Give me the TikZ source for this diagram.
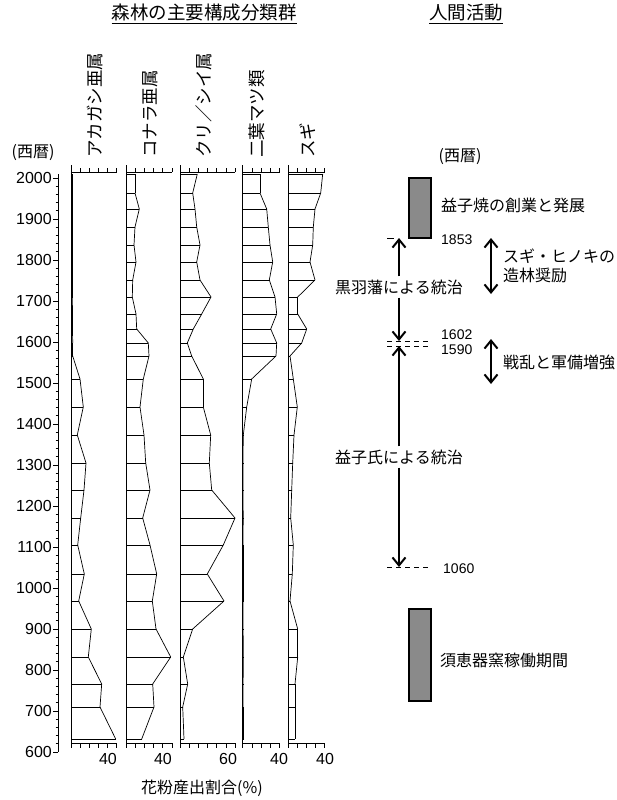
\documentclass[tikz,border=0pt]{standalone}
\usepackage{fontspec}
\setmainfont{Liberation Sans}
\newfontfamily\jp{Noto Sans CJK JP}
\usetikzlibrary{arrows.meta}
\begin{document}
\begin{tikzpicture}[x=1pt,y=-1pt,
  num/.style={font=\fontsize{16}{16}\selectfont, inner sep=0pt},
  smallnum/.style={font=\fontsize{14}{14}\selectfont, inner sep=0pt},
  jtxt/.style={font=\jp\fontsize{16}{19}\selectfont, inner sep=0pt},
  thin/.style={line width=0.7pt},
  arr/.style={line width=2.2pt,-{Straight Barb[length=8pt,width=13pt,line width=2pt]}},
  dbl/.style={line width=2.2pt,{Straight Barb[length=8pt,width=13pt,line width=2pt]}-{Straight Barb[length=8pt,width=13pt,line width=2pt]}},
  dashline/.style={line width=0.9pt,dash pattern=on 5pt off 4pt},
  gbox/.style={draw,line width=2pt,fill=gray!85!black!80}]
\useasboundingbox (0,0) rectangle (616,800);
% titles
\node[jtxt,font=\jp\fontsize{18.5}{20}\selectfont] (t1) at (204,14) {\underline{森林の主要構成分類群}};
\node[jtxt,font=\jp\fontsize{18.5}{20}\selectfont] (t2) at (466,14) {\underline{人間活動}};
% taxon labels
\foreach \xx/\lab [count=\k] in {95/アカガシ亜属,150/コナラ亜属,204/クリ／シイ属,257/二葉マツ類,308/スギ}
  \node[jtxt,rotate=90,anchor=west,font=\jp\fontsize{17.5}{19}\selectfont] (lab\k) at (\xx,158) {\lab};
\node[jtxt] (yl) at (33,153) {(西暦)};
\node[jtxt] (yr) at (460,157) {(西暦)};
% age axis
\draw[thin] (58,174) -- (58,752);
\foreach \yr in {600,700,...,2000}{
  \pgfmathsetmacro\yy{178+(2000-\yr)*0.41}
  \draw[thin] (53,\yy) -- (58,\yy);
  \node[num,anchor=east] at (52,\yy) {\yr};}
\foreach \yr in {620,640,...,2000}{
  \pgfmathsetmacro\yy{178+(2000-\yr)*0.41}
  \draw[thin] (55.5,\yy) -- (58,\yy);}
% panel axes
\foreach \L/\n/\s/\lx/\lv in {71.7/5/9/108/40,126/5/9.2/163/40,180/6/9.17/228/60,242.7/4/9.25/279/40,288.7/4/9/325/40}{
  \draw[thin] (\L,165) -- (\L,748);
  \pgfmathsetmacro\R{\L+\n*\s}
  \draw[thin] (\L,172) -- (\R,172);
  \draw[thin] (\L,743) -- (\R,743);
  \foreach \t in {1,...,\n}{
    \pgfmathsetmacro\tx{\L+\t*\s}
    \draw[thin] (\tx,172) -- (\tx,168);
    \draw[thin] (\tx,743) -- (\tx,748);}
  \node[num] at (\lx,759) {\lv};
}
\newcommand\pollen[2]{%
  \foreach \y/\v [count=\i] in {#2}{%
    \draw[thin] (#1,\y) -- (\v,\y);
    \ifnum\i>1 \draw[thin] (\pv,\py) -- (\v,\y);\fi
    \xdef\pv{\v}\xdef\py{\y}}}
\pollen{71.7}{174/72.3,193/72.3,209/72.3,227/72.3,245/72.3,262/72.3,280/72.3,297/72.3,314/72.5,329/72.5,343/72.7,356/72.7,379/80,407/83.3,435/77.3,463/86,490/84,518/80.7,545/77.7,574/84.3,601/78.7,629/91.3,657/88.3,684/101.7,707/100,739/115.7}
\pollen{126}{174/135,193/135,209/139.3,227/135,245/134,262/136,280/132.7,297/132.3,314/136,329/136.7,343/148.3,356/149,379/143.3,407/140,435/144,463/145.7,490/150,518/142.7,545/150,574/156.7,601/152.3,629/156,657/170.7,684/152.7,707/154,739/141.7}
\pollen{180}{174/197.3,193/192.7,209/195,227/196.7,245/200,262/196.7,280/200,297/211,314/201.7,329/193.3,343/187.3,356/191.7,379/203.3,407/203.3,435/210.7,463/209.3,490/211.7,518/235,545/223.3,574/207.3,601/224,629/192.7,657/183.3,684/187.7,707/182.7,739/184}
\pollen{242.7}{174/260,193/260,209/266.7,227/268.3,245/270,262/272.7,280/269.3,297/275,314/276.7,329/270.7,343/276.7,356/276,379/251.7,407/246.7,435/243.3,463/242.9,490/243,518/243.2,545/243,574/243,601/243,629/243.1,657/243.3,684/243.1,707/243,739/243}
\pollen{288.7}{174/322.7,193/320.7,209/315,227/313.3,245/312.7,262/310,280/315,297/297.7,314/297.7,329/306.7,343/301.7,356/290,379/293.3,407/297.3,435/294,463/292.7,490/291.7,518/290.7,545/293.3,574/292.3,601/290,629/297.7,657/297.7,684/295,707/295,739/295}
\node[jtxt] (xl) at (202,788) {花粉産出割合(\%)};
% human activity
\node[gbox,minimum width=22pt,minimum height=60pt,inner sep=0pt] (b1) at (419.5,208) {};
\node[jtxt,anchor=west] (b1t) at (441,205) {益子焼の創業と発展};
\node[gbox,minimum width=22pt,minimum height=92pt,inner sep=0pt] (b2) at (420,655) {};
\node[jtxt,anchor=west] (b2t) at (440,660) {須恵器窯稼働期間};
\coordinate (c1853) at (399,238);
\coordinate (c1602) at (399,341);
\coordinate (c1590) at (399,346);
\coordinate (c1060) at (399,567);
\node[jtxt] (kuro) at (399,287) {黒羽藩による統治};
\node[jtxt] (mash) at (399,457) {益子氏による統治};
\draw[arr] (kuro.north) ++(0,-3) -- (c1853);
\draw[arr] (kuro.south) ++(0,3) -- (c1602);
\draw[arr] (mash.north) ++(0,-3) -- (c1590);
\draw[arr] (mash.south) ++(0,3) -- (c1060);
\draw[line width=0.9pt] (387,238) -- (394,238);
\draw[dashline] (387,341) -- (431,341);
\draw[dashline] (387,346.5) -- (431,346.5);
\draw[dashline] (387,567) -- (431,567);
\node[smallnum,anchor=west] (n1853) at (441,240) {1853};
\node[smallnum,anchor=west] (n1602) at (441,335) {1602};
\node[smallnum,anchor=west] (n1590) at (441,350) {1590};
\node[smallnum,anchor=west] (n1060) at (443,569) {1060};
\coordinate (d1a) at (491,238); \coordinate (d1b) at (491,294);
\coordinate (d2a) at (491,339); \coordinate (d2b) at (491,384);
\draw[dbl] (d1a) -- (d1b);
\draw[dbl] (d2a) -- (d2b);
\node[jtxt,anchor=west,align=left] (sugi) at (503,266) {スギ・ヒノキの\\造林奨励};
\node[jtxt,anchor=west] (sen) at (503,362) {戦乱と軍備増強};
\end{tikzpicture}
\end{document}
